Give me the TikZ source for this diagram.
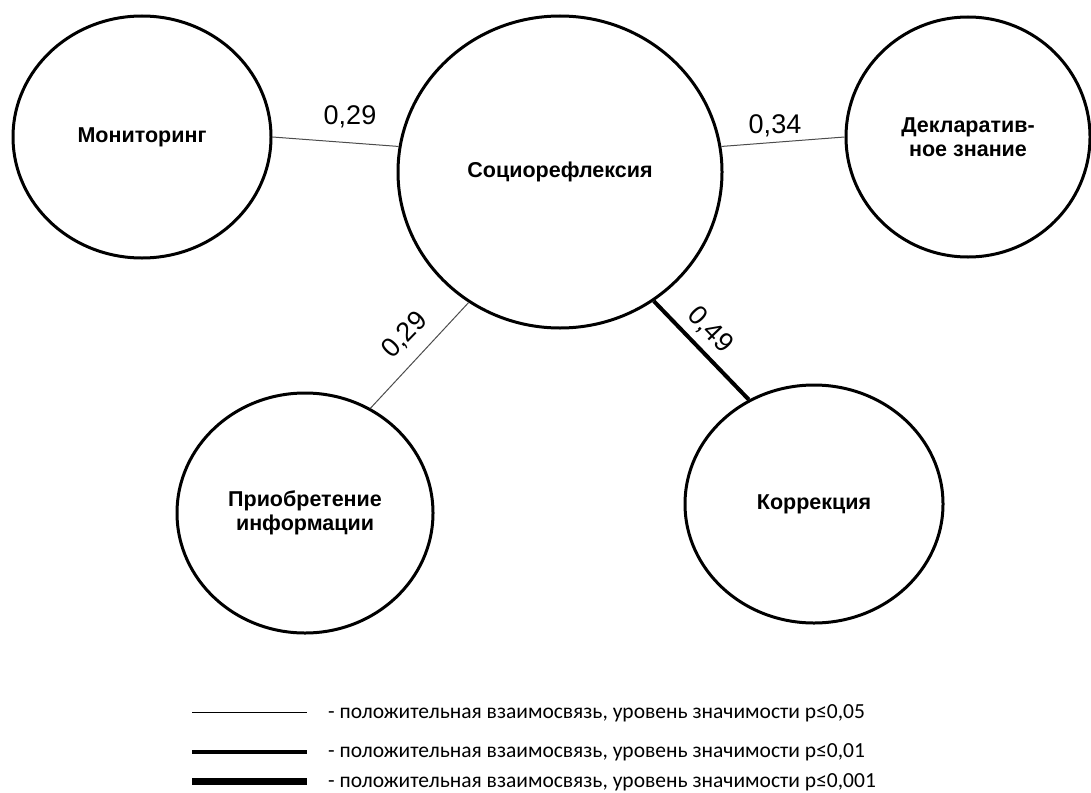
\documentclass[tikz,border=0pt]{standalone}
\usepackage{fontspec}
\setmainfont{Liberation Sans}
\newfontfamily\legfont{Carlito}
\usetikzlibrary{shapes.geometric}
\begin{document}
\begin{tikzpicture}[x=1pt,y=-1pt,
  blob/.style={ellipse, draw, line width=3pt, align=center, inner sep=0pt,
    font=\fontsize{21.5}{24}\selectfont\bfseries},
  thinlink/.style={line width=1pt, draw=black!70},
  thicklink/.style={line width=4pt, draw=black},
  num/.style={font=\fontsize{27}{30}\selectfont, inner sep=0pt},
  legtext/.style={anchor=west, font=\legfont\fontsize{21.5}{24}\selectfont, inner sep=0pt}]
\useasboundingbox (0,0) rectangle (1091,792);

\node[blob, minimum width=258pt, minimum height=242pt] (mon) at (142,137) {Мониторинг};
\node[blob, minimum width=324pt, minimum height=312pt] (soc) at (560,172) {Социорефлексия};
\node[blob, minimum width=244pt, minimum height=240pt] (decl) at (968,137) {Декларатив-\\ное знание};
\node[blob, minimum width=256pt, minimum height=240pt] (prio) at (305,513) {Приобретение\\информации};
\node[blob, minimum width=258pt, minimum height=238pt] (korr) at (814,504) {Коррекция};

\draw[thinlink] (mon.east) -- (soc.171);
\draw[thinlink] (soc.9) -- (decl.west);
\draw[thinlink] (soc.235.5) -- (prio.58);
\draw[thicklink] (soc.306.6) -- (korr.122);

\node[num] (n1) at (350,117) {0,29};
\node[num] (n2) at (775,126) {0,34};
\node[num, rotate=46] (n3) at (405,335) {0,29};
\node[num, rotate=-46] (n4) at (710,330) {0,49};

\coordinate (l1a) at (192,712); \coordinate (l1b) at (307,712);
\coordinate (l2a) at (192,752); \coordinate (l2b) at (307,752);
\coordinate (l3a) at (192,781); \coordinate (l3b) at (307,781);
\draw[line width=1pt] (l1a) -- (l1b);
\draw[line width=4.5pt] (l2a) -- (l2b);
\draw[line width=7pt] (l3a) -- (l3b);
\node[legtext] (t1) at (328,713) {- положительная взаимосвязь, уровень значимости р≤0,05};
\node[legtext] (t2) at (328,752) {- положительная взаимосвязь, уровень значимости р≤0,01};
\node[legtext] (t3) at (328,782) {- положительная взаимосвязь, уровень значимости р≤0,001};
\end{tikzpicture}
\end{document}
